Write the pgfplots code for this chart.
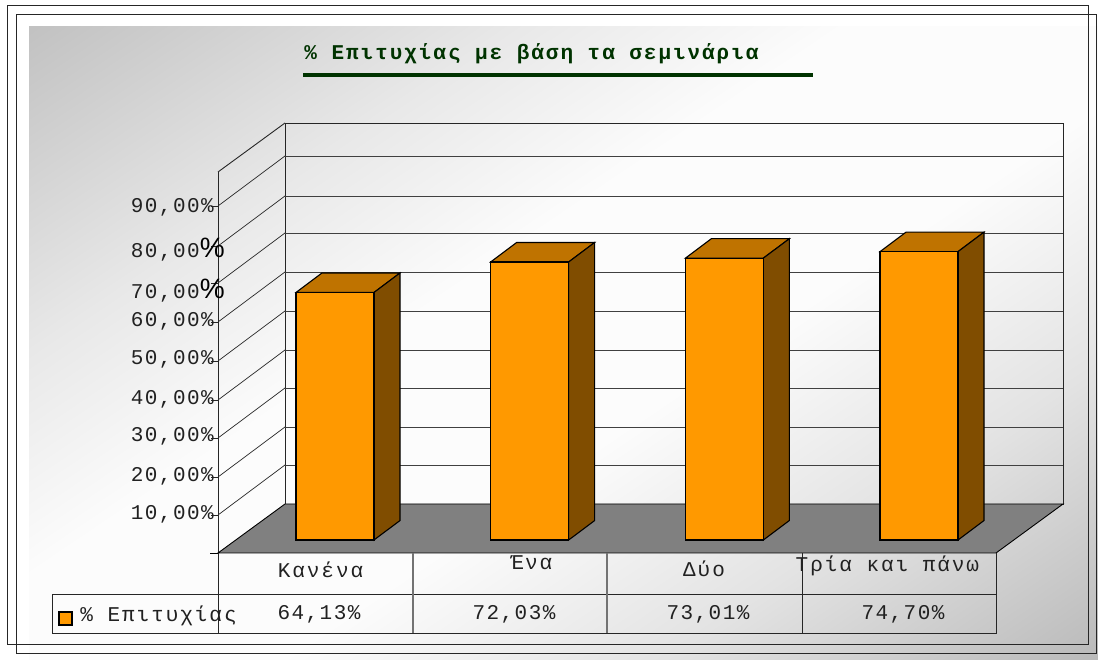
\documentclass[border=0pt]{standalone}
\usepackage{fontspec}
\usepackage{pgfplots}
\pgfplotsset{compat=1.18}
\setmainfont{Liberation Mono}
\newfontfamily\monospaced[LetterSpace=7]{Liberation Mono}
\newfontfamily\monowide[LetterSpace=9.3]{Liberation Mono}
\newfontfamily\sanspct{Liberation Sans}
\newcommand{\lab}{\monospaced\fontsize{21}{24}\selectfont}
\newcommand{\labwide}{\monowide\fontsize{21}{24}\selectfont}
\newcommand{\bigpct}{\rlap{\color{black}\sanspct\fontsize{28}{28}\selectfont\%}\hspace*{14pt}}

\definecolor{barfront}{RGB}{255,153,0}
\definecolor{bartop}{RGB}{191,115,0}
\definecolor{barside}{RGB}{128,77,0}
\definecolor{titlegreen}{RGB}{0,51,0}
\definecolor{txt}{gray}{0.13}

% page background: light band across the middle, grey in two corners
% (tikz fits the middle 25-75bp of a shading to the path)
\pgfdeclareverticalshading{bgshade}{100bp}{
  color(0bp)=(black!27);
  color(25bp)=(black!27);
  color(35.75bp)=(black!11);
  color(45.5bp)=(black!1);
  color(54.5bp)=(black!1);
  color(63bp)=(black!9);
  color(75bp)=(black!24);
  color(100bp)=(black!24)}

\begin{document}
\begin{tikzpicture}
\path[use as bounding box] (0,0) rectangle (1098pt,660pt);

\begin{scope}
  \clip (29pt,0pt) rectangle (1098pt,633pt);
  \shade[shading=bgshade, shading angle=34]
    (2pt,-244pt) rectangle (1124pt,878pt);
\end{scope}

% everything below is in reference pixels, y downwards
\begin{scope}[x=1pt,y=-1pt,yshift=660pt,line width=0.9pt]
  \draw[black!85] (7.5,5.5) rectangle (1088,644);
  \draw[black!85] (16.5,14.5) rectangle (1096.5,653);

  % back wall, side wall
  \draw[black!85] (285,123) rectangle (1063,504);
  \foreach \y in {156,196,233,272,311,350,388,427,465}
    \draw[black!75] (285,\y) -- (1063,\y);
  \draw[black!85] (218,172) -- (285,123);
  \draw[black!85] (218,172) -- (218,634);
  \foreach \y in {156,196,233,272,311,350,388,427,465}{
    \draw[black!85,line width=0.7pt] (285,\y) -- (218,\y+50);
    \draw[black!85,line width=0.7pt] (211,\y+50) -- (218,\y+50);
  }

  % floor
  \draw[black,fill=black!50] (218,553) -- (285,504) -- (1063,504) -- (996,553) -- cycle;
  \draw[black] (210,553) -- (218,553);

  % data table
  \draw[black!85] (52,594.5) rectangle (996,633.5);
  \draw[black!85] (996,553) -- (996,633.5);
  \draw[black!55,line width=1.1pt] (413,553) -- (413,633.5);
  \draw[black!55,line width=1.1pt] (607,553) -- (607,633.5);
  \draw[black!85] (802,553) -- (802,633.5);
  \draw[black,fill=barfront,line width=1.1pt] (59,612) rectangle (72,625);

  % title
  \fill[titlegreen] (303,73) rectangle (813,77);
  \node[anchor=base west,inner sep=0pt,text=titlegreen,font=\labwide\bfseries]
    at (304,60) {\% Επιτυχίας με βάση τα σεμινάρια};

  % table text
  \node[anchor=base west,inner sep=0pt,text=txt,font=\labwide] at (80,622) {\% Επιτυχίας};
  \node[anchor=base,inner sep=0pt,text=txt,font=\lab] at (319,620) {64,13\%};
  \node[anchor=base,inner sep=0pt,text=txt,font=\lab] at (514,620) {72,03\%};
  \node[anchor=base,inner sep=0pt,text=txt,font=\lab] at (708,620) {73,01\%};
  \node[anchor=base,inner sep=0pt,text=txt,font=\lab] at (903,620) {74,70\%};
\end{scope}

\begin{axis}[
    at={(0pt,0pt)}, anchor=south west,
    scale only axis,
    width=1098pt,
    height=660pt,
    xmin=-1.72086, xmax=3.91945,
    ymin=-31.088, ymax=139.896,
    axis line style={draw=none},
    tick style={draw=none},
    major tick length=0pt,
    xtick={-0.0745,1.0094,1.8956,2.8376},
    xticklabels={
      Κανένα,
      \raisebox{8pt}{Ένα},
      \raisebox{1pt}{Δύο},
      \raisebox{6pt}{Τρία και πάνω}},
    ytick={5.18,15.28,25.39,35.23,45.34,55.18,62.69,73.06,84.97},
    yticklabels={
      {10,00\%},{20,00\%},{30,00\%},{40,00\%},{50,00\%},{60,00\%},
      {70,00\bigpct},{80,00\bigpct},{90,00\%}},
    tick label style={text=txt,inner sep=0pt},
    xticklabel style={font=\labwide,anchor=base,yshift=82pt},
    yticklabel style={font=\lab,anchor=base east,xshift=214pt},
]
% top faces
\addplot[fill=bartop,draw=black,line width=1.1pt] coordinates {(-0.2003,64.13)(0.2003,64.13)(0.3339,69.18)(-0.0667,69.18)} --cycle;
\addplot[fill=bartop,draw=black,line width=1.1pt] coordinates {(0.7997,72.03)(1.2003,72.03)(1.3339,77.08)(0.9333,77.08)} --cycle;
\addplot[fill=bartop,draw=black,line width=1.1pt] coordinates {(1.7997,73.01)(2.2003,73.01)(2.3339,78.06)(1.9333,78.06)} --cycle;
\addplot[fill=bartop,draw=black,line width=1.1pt] coordinates {(2.7997,74.70)(3.2003,74.70)(3.3339,79.75)(2.9333,79.75)} --cycle;
% side faces
\addplot[fill=barside,draw=black,line width=1.1pt] coordinates {(0.2003,0)(0.2003,64.13)(0.3339,69.18)(0.3339,5.05)} --cycle;
\addplot[fill=barside,draw=black,line width=1.1pt] coordinates {(1.2003,0)(1.2003,72.03)(1.3339,77.08)(1.3339,5.05)} --cycle;
\addplot[fill=barside,draw=black,line width=1.1pt] coordinates {(2.2003,0)(2.2003,73.01)(2.3339,78.06)(2.3339,5.05)} --cycle;
\addplot[fill=barside,draw=black,line width=1.1pt] coordinates {(3.2003,0)(3.2003,74.70)(3.3339,79.75)(3.3339,5.05)} --cycle;
% front faces
\addplot[ybar,bar width=78pt,bar shift=0pt,fill=barfront,draw=black,line width=1.1pt]
  coordinates {(0,64.13)(1,72.03)(2,73.01)(3,74.70)};
\end{axis}
\end{tikzpicture}
\end{document}
